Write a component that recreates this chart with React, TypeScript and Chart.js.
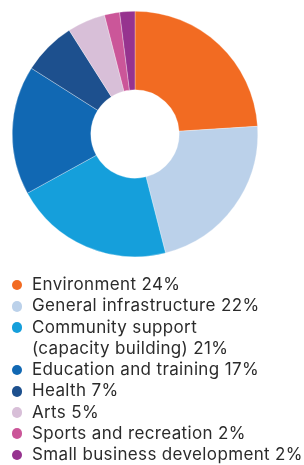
import React, { useEffect, useRef } from "react";
import { Chart, registerables } from "chart.js";

Chart.register(...registerables);

const categories = [
  "Environment",
  "General infrastructure",
  "Community support (capacity building)",
  "Education and training",
  "Health",
  "Arts",
  "Sports and recreation",
  "Small business development",
];
const legendLines: string[][] = [
  ["Environment 24%"],
  ["General infrastructure 22%"],
  ["Community support", "(capacity building) 21%"],
  ["Education and training 17%"],
  ["Health 7%"],
  ["Arts 5%"],
  ["Sports and recreation 2%"],
  ["Small business development 2%"],
];
const values = [24, 22, 21, 17, 7, 5, 2, 2];
const colors = [
  "#F26B22",
  "#BBD1EA",
  "#159FDB",
  "#1168B3",
  "#1D508E",
  "#D8BFD8",
  "#CB5699",
  "#96338F",
];

export default function App() {
  const ref = useRef<HTMLCanvasElement>(null);
  useEffect(() => {
    if (!ref.current) return;
    const chart = new Chart(ref.current, {
      type: "doughnut",
      data: {
        labels: categories,
        datasets: [
          {
            data: values,
            backgroundColor: colors,
            borderColor: "rgba(255,255,255,0.6)",
            borderWidth: 0.5,
          },
        ],
      },
      options: {
        animation: false,
        responsive: true,
        maintainAspectRatio: false,
        cutout: "36%",
        layout: { padding: 0 },
        plugins: {
          legend: { display: false },
          tooltip: { enabled: false },
        },
      },
    });
    return () => chart.destroy();
  }, []);

  return (
    <div style={{ position: "fixed", left: 0, top: 0, width: 304, height: 465, overflow: "hidden" }}>
      <div style={{ position: "absolute", left: 12, top: 11, width: 246, height: 246 }}>
        <canvas ref={ref} />
      </div>
      <div
        style={{
          position: "absolute",
          left: 0,
          top: 274,
          fontFamily: "Inter, sans-serif",
          fontSize: 17,
          letterSpacing: "0.35px",
          lineHeight: "21.25px",
          color: "#2b2b2b",
        }}
      >
        {legendLines.map((lines, i) => (
          <div key={i} style={{ position: "relative", paddingLeft: 32 }}>
            <span
              style={{
                position: "absolute",
                left: 11.5,
                top: 5.7,
                width: 10.7,
                height: 10.7,
                borderRadius: "50%",
                background: colors[i],
              }}
            />
            {lines.map((l, j) => (
              <div key={j} style={{ whiteSpace: "nowrap" }}>{l}</div>
            ))}
          </div>
        ))}
      </div>
    </div>
  );
}
